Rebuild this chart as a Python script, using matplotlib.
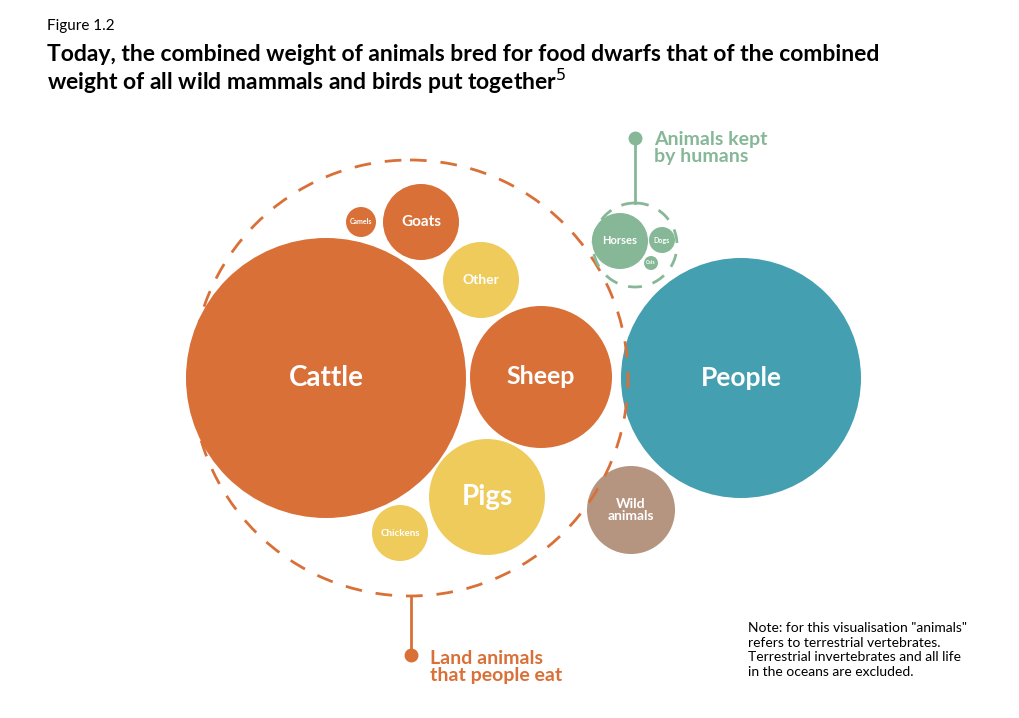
import numpy as np
import matplotlib.pyplot as plt
from matplotlib.patches import Circle

plt.rcParams['font.family'] = ['Lato', 'DejaVu Sans']

# relative biomass (circle area)
labels = ['Cattle', 'Sheep', 'Pigs', 'Chickens', 'Other', 'Goats', 'Camels',
          'People', 'Wild\nanimals', 'Horses', 'Dogs', 'Cats']
biomass = [19600, 5040, 3360, 784, 1444, 1444, 225,
           14400, 1936, 784, 169, 49]
groups = ['food', 'food', 'food', 'food', 'food', 'food', 'food',
          'people', 'wild', 'kept', 'kept', 'kept']
label_sizes = [20, 18, 20, 7, 10, 11, 5, 19, 10, 8, 5, 3.5]

# layout (pixel positions of bubble centres)
cx = [326, 541, 487, 400, 481, 421, 361, 741, 631, 620, 662, 651]
cy = [378, 377, 497, 533, 280, 222, 222, 378, 510, 241, 240, 263]

colors = {'food': '#D97038', 'people': '#449FB0', 'wild': '#B59580', 'kept': '#86B897'}
yellow = ['Pigs', 'Chickens', 'Other']

fig = plt.figure(figsize=(10.2, 7.18), dpi=100)
ax = fig.add_axes([0, 0, 1, 1])
ax.set_xlim(0, 1020)
ax.set_ylim(718, 0)
ax.set_aspect('equal')
ax.axis('off')

for name, b, g, fs, x, y in zip(labels, biomass, groups, label_sizes, cx, cy):
    r = np.sqrt(b)
    c = '#EECB5A' if name in yellow else colors[g]
    ax.add_patch(Circle((x, y), r, color=c, lw=0))
    ax.text(x, y, name, ha='center', va='center', color='white', fontsize=fs,
            fontweight='bold', linespacing=0.95)

# group outlines
ax.add_patch(Circle((410, 378), 218, fill=False, ec='#D97038', lw=2, ls=(0, (6, 5))))
ax.add_patch(Circle((635, 245), 42, fill=False, ec='#86B897', lw=2, ls=(0, (5, 4))))

ax.plot([635, 635], [138, 203], color='#86B897', lw=2)
ax.plot(635, 138, 'o', color='#86B897', ms=9)
ax.text(654, 148, 'Animals kept\nby humans', color='#86B897', fontsize=14,
        fontweight='bold', va='center', linespacing=0.95)

ax.plot([411, 411], [596, 655], color='#D97038', lw=2)
ax.plot(411, 655, 'o', color='#D97038', ms=9)
ax.text(430, 667, 'Land animals\nthat people eat', color='#D97038', fontsize=14,
        fontweight='bold', va='center', linespacing=0.95)

ax.text(47, 26, 'Figure 1.2', fontsize=11, va='center')
ax.text(47, 70, 'Today, the combined weight of animals bred for food dwarfs that of the combined\n'
        'weight of all wild mammals and birds put together$^5$', fontsize=16.5,
        fontweight='bold', va='center', linespacing=1.1)
ax.text(748, 650, 'Note: for this visualisation "animals"\nrefers to terrestrial vertebrates.\n'
        'Terrestrial invertebrates and all life\nin the oceans are excluded.',
        fontsize=10, va='center', linespacing=1.25)

fig.savefig('out.png', dpi=100)
